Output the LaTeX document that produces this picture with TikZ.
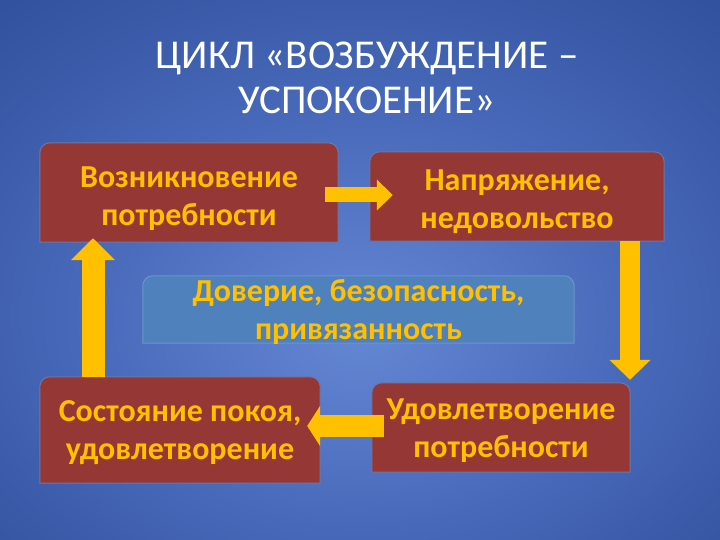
\documentclass[tikz,border=0pt]{standalone}
\usepackage{fontspec}
\setmainfont{Carlito}
\usetikzlibrary{arrows.meta,calc,backgrounds}
\definecolor{boxred}{HTML}{953735}
\definecolor{boxedge}{HTML}{6B78A8}
\definecolor{midfill}{HTML}{4F81BD}
\definecolor{midedge}{HTML}{6E93CC}
\definecolor{txtyellow}{HTML}{FFC000}
\definecolor{arrowyellow}{HTML}{FFC000}
\definecolor{bgin}{HTML}{6487D4}
\definecolor{bgmid}{HTML}{4768B8}
\definecolor{bgout}{HTML}{24428E}
\definecolor{bgcorner}{HTML}{15265A}
\pgfdeclareradialshading{bgshade}{\pgfpoint{0bp}{-6bp}}{color(0bp)=(bgin); color(20bp)=(bgmid); color(48bp)=(bgout); color(71bp)=(bgcorner)}
\newcommand{\roundtop}[3]{%
  \filldraw[fill=#2, draw=#3, line width=1pt] (#1.south west) -- ($(#1.north west)+(0,10)$)
    arc[start angle=180, end angle=90, radius=10pt] -- ($(#1.north east)+(-10,0)$)
    arc[start angle=90, end angle=0, radius=10pt] -- (#1.south east) -- cycle;}
\tikzset{
  boxtext/.style={text=txtyellow, font=\bfseries\fontsize{32}{38}\selectfont, align=center, inner sep=0pt},
  box/.style={inner sep=0pt},
  titletext/.style={text=white, font=\fontsize{41}{45}\selectfont, align=center, inner sep=0pt},
  blockarrow/.style n args={3}{draw=arrowyellow, line width=#1, -{Triangle[length=#3, width=#2]}}
}
\begin{document}
\begin{tikzpicture}[x=1pt, y=-1pt]
\useasboundingbox (0,0) rectangle (720,540);
\node[titletext] (title) at (367,78) {ЦИКЛ «ВОЗБУЖДЕНИЕ –\\УСПОКОЕНИЕ»};
\node[box, minimum width=298pt, minimum height=99pt, label={[boxtext, yshift=-6pt]center:{Возникновение\\потребности}}] (b1) at (189,192.5) {};
\node[box, minimum width=294pt, minimum height=89pt, label={[boxtext, yshift=-5pt]center:{Напряжение,\\недовольство}}] (b2) at (517,196.5) {};
\node[box, minimum width=431pt, minimum height=67pt, label={[boxtext, yshift=-2.5pt]center:{Доверие, безопасность,\\привязанность}}] (mid) at (358.5,309.5) {};
\node[box, minimum width=280pt, minimum height=106pt, label={[boxtext, yshift=-3pt]center:{Состояние покоя,\\удовлетворение}}] (b3) at (180,430) {};
\node[box, minimum width=258pt, minimum height=89pt, label={[boxtext, yshift=-3.5pt]center:{Удовлетворение\\потребности}}] (b4) at (501,427.5) {};
\begin{scope}[on background layer]
  \shade[shading=bgshade] (0,0) rectangle (720,540);
  \roundtop{b1}{boxred}{boxedge}
  \roundtop{b2}{boxred}{boxedge}
  \roundtop{mid}{midfill}{midedge}
  \roundtop{b3}{boxred}{boxedge}
  \roundtop{b4}{boxred}{boxedge}
  \draw[blockarrow={15pt}{30pt}{16pt}] ($(b1.east)+(-13,2.5)$) -- ($(b2.west)+(23,-1.5)$);
  \draw[blockarrow={20pt}{40pt}{20pt}] ($(b2.south)+(113,0)$) -- ($(b4.north)+(129,-3)$);
  \draw[blockarrow={22pt}{40pt}{13pt}] ($(b4.west)+(12,-1.5)$) -- ($(b3.east)+(-13,-4)$);
  \draw[blockarrow={23pt}{43pt}{22pt}] ($(b3.north)+(-87,0)$) -- ($(b1.south)+(-96,-4)$);
\end{scope}
\end{tikzpicture}
\end{document}
